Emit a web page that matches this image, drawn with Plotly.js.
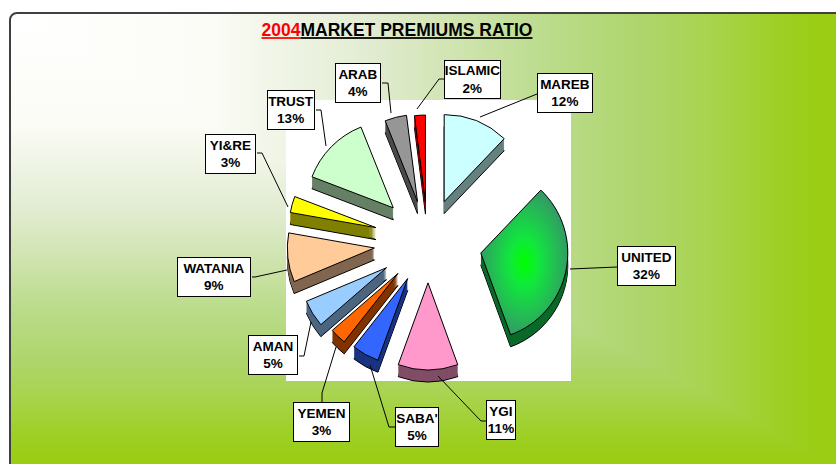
<!DOCTYPE html>
<html><head><meta charset="utf-8">
<script src="https://cdn.plot.ly/plotly-3.0.1.min.js"></script>
<style>
html,body{margin:0;padding:0;background:#fff;width:836px;height:464px;overflow:hidden}
#frame{position:absolute;left:9px;top:12px;width:840px;height:470px;box-sizing:border-box;border:2px solid #404040;border-radius:8px;background-color:#fff;background-blend-mode:darken}
#plot{position:absolute;left:0;top:0;width:836px;height:464px}
</style></head><body>
<div id="frame"></div><div id="plot"></div>
<script>
const categories=["MAREB","UNITED","YGI","SABA'","YEMEN","AMAN","WATANIA","YI&RE","TRUST","ARAB","ISLAMIC"];
const percents=[12,32,11,5,3,5,9,3,13,4,2];
const faceColors=["#ccffff","#339966","#ff99cc","#3366ff","#ff6600","#99ccff","#ffcc99","#ffff00","#ccffcc","#969696","#ff0000"];
const wallColors=["#668080","#0b6a2a","#804d66","#1a3380","#803300","#4d6680","#806650","#808000","#668066","#4b4b4b","#800000"];
const pulls=[.5,.62,.47,.48,.5,.56,.62,.62,.56,.48,.46];
const titleYear="2004";
const titleRest="MARKET PREMIUMS RATIO";
const rampStops=[0,.25,.44,.55,.66,.78,.86,.95,1];
const rampColors=["#ffffff","#fbfcf6","#e2ecd2","#d0e4b0","#bbdc8c","#aed56c","#a8d44f","#9ecf25","#9acd14"];

const ramp=len=>rampStops.map((t,i)=>rampColors[i]+' '+Math.round(t*len)+'px').join(',');
document.getElementById('frame').style.backgroundImage='linear-gradient(to right,'+ramp(809)+'),linear-gradient(to bottom,'+ramp(443)+')';

const W=836,H=464,maxPull=Math.max(...pulls),R=87,CX=428,CY=242,DEPTH=12;
const half=R*(1+maxPull);
const fx=x=>x/W, fy=y=>1-y/H;
function pie(dy,colors,line){
  return {type:'pie',values:percents,labels:categories,sort:false,direction:'clockwise',rotation:0,
    pull:pulls,textinfo:'none',hoverinfo:'label+percent',showlegend:false,
    marker:{colors:colors,line:{color:line?'#000':'rgba(0,0,0,0)',width:line?1:0}},
    domain:{x:[fx(CX-half),fx(CX+half)],y:[fy(CY+dy+half),fy(CY+dy-half)]}};
}
const traces=[];
for(let d=DEPTH;d>=1;d--) traces.push(pie(d,wallColors,d===DEPTH));
traces.push(pie(0,faceColors,true));

const boxes=[[537,73,57,41],[617,246,60,41],[486,400,31,41],[395,407,45,41],[293,402,58,41],[248,335,51,41],[177,257,75,41],[205,134,52,41],[267,90,49,41],[335,63,47,41],[444,60,58,40]];
const leaders=[[[537,94],[480,117]],[[617,267],[570,269]],[[486,421],[481,421],[438,376]],[[395,427],[389,427],[370,365]],[[322,402],[322,393],[336,347]],[[299,356],[304,356],[311,322]],[[252,277],[255,277],[287,270]],[[257,153],[262,153],[288,207]],[[316,110],[321,110],[326,146]],[[382,83],[388,83],[391,113]],[[444,79],[439,79],[417,109]]];

const shapes=[{type:'rect',xref:'paper',yref:'paper',x0:fx(286),x1:fx(571),y0:fy(381),y1:fy(100),fillcolor:'#fff',line:{width:0},layer:'below'}];
leaders.forEach(p=>{
  for(let i=0;i<p.length-1;i++) shapes.push({type:'line',xref:'paper',yref:'paper',x0:fx(p[i][0]),y0:fy(p[i][1]),x1:fx(p[i+1][0]),y1:fy(p[i+1][1]),line:{color:'#000',width:1},layer:'above'});
});
const annotations=categories.map((c,i)=>{
  const b=boxes[i];
  return {xref:'paper',yref:'paper',x:fx(b[0]),y:fy(b[1]),xanchor:'left',yanchor:'top',showarrow:false,
    width:b[2]-3,height:b[3]-3,align:'center',valign:'middle',bgcolor:'#fff',bordercolor:'#000',borderwidth:1,borderpad:0,
    text:'<b>'+c+'<br>'+percents[i]+'%</b>',font:{family:'Liberation Sans, Arial, sans-serif',size:13.5,color:'#000'}};
});
const layout={width:W,height:H,margin:{l:0,r:0,t:0,b:0},paper_bgcolor:'rgba(0,0,0,0)',plot_bgcolor:'rgba(0,0,0,0)',
  title:{text:'<b><span style="color:#ff0000"><u>'+titleYear+'</u></span><u>'+titleRest+'</u></b>',x:397/W,xanchor:'center',xref:'paper',y:1-30/H,yanchor:'middle',yref:'container',font:{family:'Liberation Sans, Arial, sans-serif',size:17.5,color:'#000'}},
  shapes:shapes,annotations:annotations};
Plotly.newPlot('plot',traces,layout,{displayModeBar:false,responsive:false}).then(()=>{
  const svg=document.querySelector('#plot svg.main-svg');
  const ns='http://www.w3.org/2000/svg';
  const defs=document.createElementNS(ns,'defs');
  defs.innerHTML='<radialGradient id="unitedGrad" gradientUnits="objectBoundingBox" cx=".5" cy=".5" r=".55"><stop offset="0" stop-color="#00ff00"/><stop offset=".3" stop-color="#10e83c"/><stop offset=".95" stop-color="#339966"/></radialGradient>';
  svg.insertBefore(defs,svg.firstChild);
  const pies=document.querySelectorAll('#plot g.pielayer g.trace');
  const slice=pies[pies.length-1].querySelectorAll('g.slice')[1];
  slice.querySelector('path').style.fill='url(#unitedGrad)';
});
</script></body></html>
